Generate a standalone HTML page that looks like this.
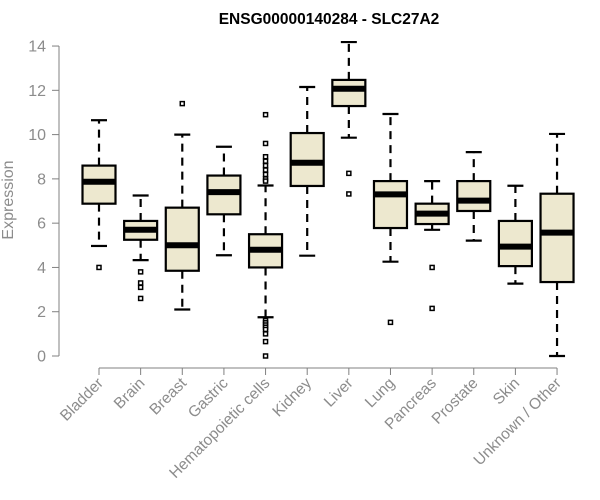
<!DOCTYPE html>
<html><head><meta charset="utf-8"><style>
body{margin:0;background:#fff;}
svg{display:block;font-family:"Liberation Sans",sans-serif;}
</style></head><body>
<svg id="chart" width="600" height="500">
<text x="329" y="24" text-anchor="middle" font-size="15.5" font-weight="bold">ENSG00000140284 - SLC27A2</text>
<text transform="translate(13,200) rotate(-90)" text-anchor="middle" font-size="16" fill="#8c8c8c">Expression</text>
<g id="axes"></g>
<g id="boxes"></g>
</svg>
<script>
const categories=["Bladder","Brain","Breast","Gastric","Hematopoietic cells","Kidney","Liver","Lung","Pancreas","Prostate","Skin","Unknown / Other"];
const whiskerLow=[4.97,4.33,2.1,4.55,1.75,4.53,9.86,4.26,5.7,5.21,3.27,0];
const q1=[6.88,5.25,3.85,6.4,4.0,7.68,11.29,5.78,5.96,6.55,4.06,3.34];
const median=[7.87,5.7,5.0,7.4,4.8,8.73,12.07,7.3,6.43,7.02,4.94,5.57];
const q3=[8.6,6.1,6.7,8.15,5.5,10.07,12.47,7.9,6.88,7.9,6.1,7.33];
const whiskerHigh=[10.65,7.25,10.0,9.45,7.7,12.15,14.18,10.93,7.9,9.21,7.69,10.03];
const outliers=[[4.0],[3.8,3.3,3.1,2.6],[11.4],[],[10.9,9.6,9.0,8.8,8.6,8.4,8.2,8.0,7.9,1.6,1.5,1.4,1.3,1.2,1.0,0.65,0.0],[],[8.25,7.32],[1.52],[4.0,2.15],[],[],[]];
const yTicks=[0,2,4,6,8,10,12,14];
const NS="http://www.w3.org/2000/svg";
const y=v=>356-22.14*v;
const x=i=>99+i*41.64;
function mk(tag,attrs,parent){const e=document.createElementNS(NS,tag);for(const k in attrs)e.setAttribute(k,attrs[k]);parent.appendChild(e);return e;}
const ax=document.getElementById('axes'),bx=document.getElementById('boxes');
const yl=mk('line',{x1:59,x2:59,y1:y(0),y2:y(14),stroke:'#808080'},ax);


yTicks.forEach(t=>{
 const tk=mk('line',{x1:52,x2:59,y1:y(t),y2:y(t),stroke:'#808080'},ax);
 
 
 const tx=mk('text',{x:46,y:y(t)+5.5,'text-anchor':'end','font-size':16,fill:'#8c8c8c'},ax);
 tx.textContent=t;
 
 
});
const xl=mk('line',{x1:x(0),x2:x(categories.length-1),y1:368,y2:368,stroke:'#808080'},ax);


categories.forEach((c,i)=>{
 const cx=x(i);
 const tk=mk('line',{x1:cx,x2:cx,y1:368,y2:375,stroke:'#808080'},ax);
 
 
 const tx=mk('text',{transform:`translate(${cx+5},${384}) rotate(-45)`,'text-anchor':'end','font-size':15.5,fill:'#8c8c8c'},ax);
 tx.textContent=c;
 
 
 const g=mk('g',{},bx);
 
 
 const st={stroke:'#000','stroke-width':2.2,fill:'none'};
 mk('line',Object.assign({x1:cx,x2:cx,y1:y(q3[i]),y2:y(whiskerHigh[i]),'stroke-dasharray':'8,6'},st),g);
 mk('line',Object.assign({x1:cx,x2:cx,y1:y(q1[i]),y2:y(whiskerLow[i]),'stroke-dasharray':'8,6'},st),g);
 mk('line',Object.assign({x1:cx-8,x2:cx+8,y1:y(whiskerHigh[i]),y2:y(whiskerHigh[i])},st),g);
 mk('line',Object.assign({x1:cx-8,x2:cx+8,y1:y(whiskerLow[i]),y2:y(whiskerLow[i])},st),g);
 mk('rect',{x:cx-16.5,y:y(q3[i]),width:33,height:y(q1[i])-y(q3[i]),fill:'#ede8cf',stroke:'#000','stroke-width':2.2},g);
 mk('line',{x1:cx-16.5,x2:cx+16.5,y1:y(median[i]),y2:y(median[i]),stroke:'#000','stroke-width':6},g);
 outliers[i].forEach(o=>{
  const p=mk('rect',{x:cx-2,y:y(o)-2,width:4,height:4,fill:'#fff',stroke:'#000','stroke-width':1.5},g);
  
  
 });
});
</script>
</body></html>
